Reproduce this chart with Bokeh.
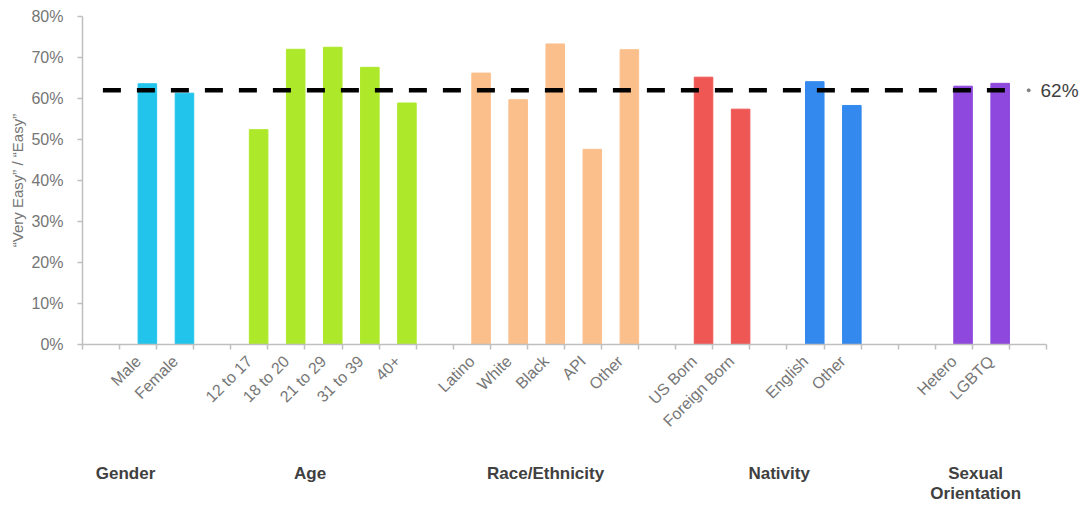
from bokeh.plotting import figure
from bokeh.models import FixedTicker, NumeralTickFormatter, Range1d, ColumnDataSource, LinearAxis
from bokeh.embed import file_html
from bokeh.resources import INLINE

# ---- data ----
gender_labels = ["Male", "Female"]
gender_values = [63.6, 61.3]
age_labels = ["12 to 17", "18 to 20", "21 to 29", "31 to 39", "40+"]
age_values = [52.4, 72.0, 72.5, 67.6, 58.9]
race_labels = ["Latino", "White", "Black", "API", "Other"]
race_values = [66.2, 59.7, 73.3, 47.6, 71.9]
birth_labels = ["US Born", "Foreign Born"]
birth_values = [65.2, 57.4]
language_labels = ["English", "Other"]
language_values = [64.1, 58.3]
orientation_labels = ["Hetero", "LGBTQ"]
orientation_values = [63.0, 63.7]
overall_value = 62
overall_label = "62%"
group_names = ["Gender", "Age", "Race/Ethnicity", "Nativity", "Sexual\nOrientation"]
y_tick_values = [0, 10, 20, 30, 40, 50, 60, 70, 80]
y_title = "\u201cVery Easy\u201d / \u201cEasy\u201d"

# ---- layout (slot positions on the category axis, colours) ----
n_slots = 26
groups = [
    (gender_labels, gender_values, 1, "#23C4EC"),
    (age_labels, age_values, 4, "#AEE82A"),
    (race_labels, race_values, 10, "#FBBF8C"),
    (birth_labels, birth_values, 16, "#EF5755"),
    (language_labels, language_values, 19, "#3389EE"),
    (orientation_labels, orientation_values, 23, "#8E48DD"),
]
group_x = [1.16, 6.14, 12.49, 18.79, 24.09]

xs, tops, colors, tick_pos, tick_text = [], [], [], [], []
for labels, vals, start, col in groups:
    for i, (lab, v) in enumerate(zip(labels, vals)):
        slot = start + i
        xs.append(slot + 0.75)
        tops.append(v / 100.0)
        colors.append(col)
        tick_pos.append(slot + 0.5)
        tick_text.append(lab)

src = ColumnDataSource(dict(x=xs, top=tops, color=colors))

p = figure(width=1081, height=507, output_backend="svg", toolbar_location=None,
           x_range=Range1d(0, n_slots), y_range=Range1d(0, 0.8),
           min_border_left=82, min_border_right=33, min_border_top=16, min_border_bottom=163)
p.outline_line_color = None
p.xgrid.grid_line_color = None
p.ygrid.grid_line_color = None
p.background_fill_color = "white"
p.border_fill_color = "white"

p.vbar(x="x", top="top", width=0.5, bottom=0, color="color", source=src)

# reference line
p.line(x=[0.55, 25.0], y=[overall_value / 100.0] * 2, line_color="black", line_width=4.5,
       line_dash="18 16")
p.scatter(x=[25.52], y=[overall_value / 100.0], size=3, color="#808080")

axis_col = "#BFBFBF"
tick_col = "#767676"
font = "Liberation Sans"

# y axis
yax = p.yaxis[0]
yax.ticker = FixedTicker(ticks=[v / 100.0 for v in y_tick_values])
yax.formatter = NumeralTickFormatter(format="0%")
yax.axis_line_color = axis_col
yax.axis_line_width = 1.5
yax.major_tick_line_color = axis_col
yax.major_tick_line_width = 1.5
yax.major_tick_out = 5
yax.major_tick_in = 0
yax.minor_tick_line_color = None
yax.major_label_text_font = font
yax.major_label_text_font_size = "16px"
yax.major_label_text_color = tick_col
yax.major_label_standoff = 14
yax.axis_label = y_title
yax.axis_label_text_font = font
yax.axis_label_text_font_style = "normal"
yax.axis_label_text_font_size = "15px"
yax.axis_label_text_color = tick_col
yax.axis_label_standoff = 2

# right-side label for the reference line
rax = LinearAxis(ticker=FixedTicker(ticks=[overall_value / 100.0]),
                 major_label_overrides={overall_value / 100.0: overall_label})
rax.axis_line_color = None
rax.major_tick_line_color = None
rax.minor_tick_line_color = None
rax.major_tick_out = 0
rax.major_tick_in = 0
rax.major_label_standoff = -6
rax.major_label_text_font = font
rax.major_label_text_font_size = "19px"
rax.major_label_text_color = "#404040"
p.add_layout(rax, "right")

# x axis (category labels)
xax = p.xaxis[0]
xax.ticker = FixedTicker(ticks=tick_pos, minor_ticks=list(range(n_slots + 1)))
xax.major_label_overrides = {float(k): v for k, v in zip(tick_pos, tick_text)}
xax.major_label_orientation = 0.785398
xax.axis_line_color = axis_col
xax.axis_line_width = 1.5
xax.major_tick_line_color = None
xax.major_tick_out = 0
xax.major_tick_in = 0
xax.minor_tick_line_color = axis_col
xax.minor_tick_line_width = 1.5
xax.minor_tick_out = 5
xax.minor_tick_in = 0
xax.major_label_text_font = font
xax.major_label_text_font_size = "16px"
xax.major_label_text_color = tick_col
xax.major_label_standoff = 9

# group names axis
gax = LinearAxis(ticker=FixedTicker(ticks=group_x),
                 major_label_overrides={float(k): v for k, v in zip(group_x, group_names)})
gax.axis_line_color = None
gax.major_tick_line_color = None
gax.minor_tick_line_color = None
gax.major_tick_out = 0
gax.major_tick_in = 0
gax.major_label_standoff = 25
gax.major_label_text_font = font
gax.major_label_text_font_style = "bold"
gax.major_label_text_font_size = "17px"
gax.major_label_text_line_height = 1.1
gax.major_label_text_color = "#404040"
p.add_layout(gax, "below")

open("out.html", "w").write(file_html(p, INLINE))
